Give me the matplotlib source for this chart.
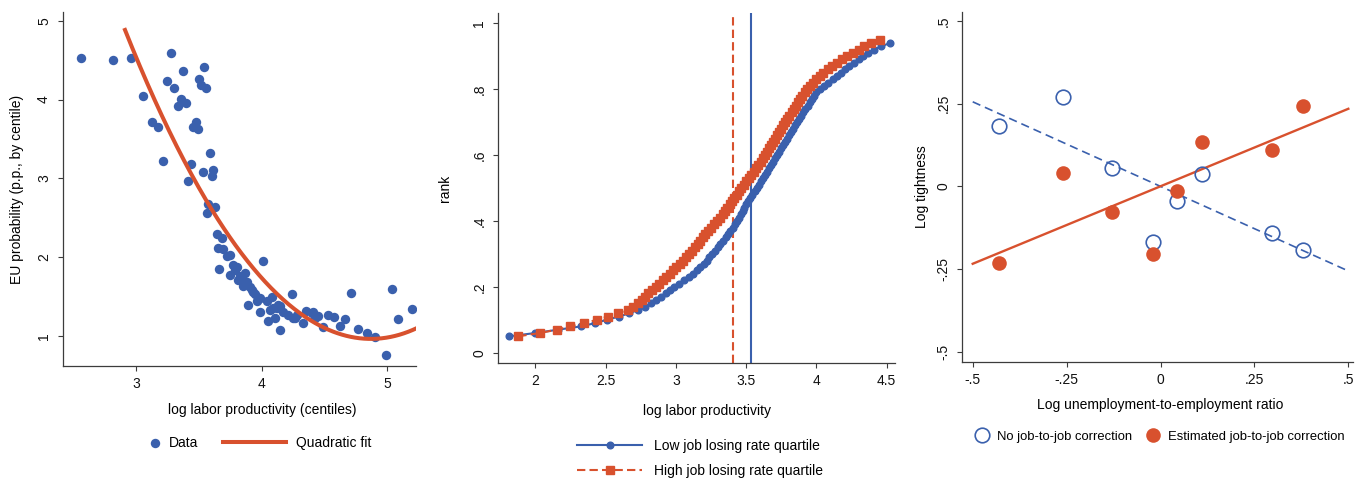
import matplotlib
matplotlib.use("Agg")
import matplotlib.pyplot as plt
import numpy as np

plt.rcParams['font.family'] = ['Liberation Sans', 'DejaVu Sans']
plt.rcParams['font.size'] = 10

BLUE = '#3a60ad'
RED = '#d8512e'
AXC = '#3c3c3c'

# ---- panel 1: EU probability by productivity centile ----
prod_x = [2.559, 2.817, 2.958, 3.056, 3.122, 3.175, 3.212, 3.247, 3.276, 3.303,
          3.329, 3.356, 3.375, 3.396, 3.414, 3.436, 3.454, 3.475, 3.489, 3.502,
          3.515, 3.529, 3.542, 3.555, 3.560, 3.574, 3.590, 3.600, 3.614, 3.627,
          3.640, 3.653, 3.661, 3.680, 3.693, 3.720, 3.747, 3.746, 3.773, 3.786,
          3.800, 3.813, 3.826, 3.840, 3.853, 3.866, 3.880, 3.892, 3.906, 3.919,
          3.930, 3.946, 3.959, 3.970, 3.985, 3.986, 4.012, 4.039, 4.052, 4.065,
          4.079, 4.092, 4.105, 4.118, 4.131, 4.145, 4.145, 4.171, 4.211, 4.238,
          4.251, 4.264, 4.278, 4.331, 4.357, 4.397, 4.410, 4.424, 4.450, 4.490,
          4.530, 4.575, 4.623, 4.663, 4.711, 4.769, 4.836, 4.907, 4.987, 5.035,
          5.083, 5.202]
eu_prob = [4.53, 4.50, 4.53, 4.05, 3.71, 3.65, 3.22, 4.23, 4.59, 4.15,
           3.92, 4.01, 4.36, 3.95, 2.97, 3.18, 3.65, 3.72, 3.63, 4.26,
           4.18, 3.08, 4.41, 4.14, 2.56, 2.67, 3.32, 3.03, 3.10, 2.64,
           2.29, 2.12, 1.85, 2.24, 2.10, 2.01, 2.03, 1.78, 1.90, 1.84,
           1.88, 1.71, 1.76, 1.72, 1.64, 1.80, 1.68, 1.40, 1.62, 1.59,
           1.56, 1.53, 1.44, 1.47, 1.48, 1.31, 1.95, 1.44, 1.19, 1.33,
           1.50, 1.36, 1.23, 1.36, 1.40, 1.08, 1.38, 1.30, 1.27, 1.53,
           1.23, 1.23, 1.27, 1.17, 1.32, 1.29, 1.31, 1.23, 1.25, 1.12,
           1.27, 1.24, 1.13, 1.22, 1.55, 1.09, 1.04, 0.99, 0.76, 1.60,
           1.22, 1.34]
qfit_coef = [1.02, -9.935, 25.156]   # quadratic fit a*x^2 + b*x + c
qfit_range = [2.91, 5.25]

# ---- panel 2: productivity CDF by job losing rate quartile ----
low_rank = [5, 6, 7, 8, 9, 10, 11, 12, 13, 14, 15, 16, 17, 18, 19, 20, 21, 22,
            23, 24, 25, 26, 27, 28, 29, 30, 31, 32, 33, 34, 35, 36, 37, 38, 39,
            40, 41, 42, 43, 44, 45, 46, 47, 48, 49, 50, 51, 52, 53, 54, 55, 56,
            57, 58, 59, 60, 61, 62, 63, 64, 65, 66, 67, 68, 69, 70, 71, 72, 73,
            74, 75, 76, 77, 78, 79, 80, 81, 82, 83, 84, 85, 86, 87, 88, 89, 90,
            91, 92, 93, 94]
low_x = [1.815, 2.000, 2.160, 2.325, 2.425, 2.508, 2.596, 2.670, 2.730, 2.780,
         2.825, 2.860, 2.895, 2.930, 2.960, 2.990, 3.025, 3.060, 3.095, 3.125,
         3.150, 3.175, 3.198, 3.218, 3.238, 3.257, 3.278, 3.297, 3.316, 3.337,
         3.355, 3.372, 3.388, 3.404, 3.418, 3.432, 3.446, 3.460, 3.474, 3.488,
         3.502, 3.516, 3.530, 3.545, 3.560, 3.575, 3.590, 3.605, 3.620, 3.635,
         3.650, 3.664, 3.678, 3.692, 3.706, 3.720, 3.734, 3.748, 3.762, 3.776,
         3.790, 3.804, 3.818, 3.832, 3.846, 3.862, 3.877, 3.892, 3.907, 3.922,
         3.937, 3.952, 3.967, 3.983, 4.000, 4.025, 4.055, 4.085, 4.115, 4.145,
         4.175, 4.205, 4.235, 4.268, 4.300, 4.333, 4.370, 4.410, 4.460, 4.525]
high_rank = [5, 6, 7, 8, 9, 10, 11, 12, 13, 14, 15, 16, 17, 18, 19, 20, 21, 22,
             23, 24, 25, 26, 27, 28, 29, 30, 31, 32, 33, 34, 35, 36, 37, 38, 39,
             40, 41, 42, 43, 44, 45, 46, 47, 48, 49, 50, 51, 52, 53, 54, 55, 56,
             57, 58, 59, 60, 61, 62, 63, 64, 65, 66, 67, 68, 69, 70, 71, 72, 73,
             74, 75, 76, 77, 78, 79, 80, 81, 82, 83, 84, 85, 86, 87, 88, 89, 90,
             91, 92, 93, 94, 95]
high_x = [1.879, 2.033, 2.152, 2.247, 2.349, 2.437, 2.515, 2.591, 2.657, 2.695,
          2.728, 2.757, 2.780, 2.805, 2.830, 2.855, 2.880, 2.905, 2.930, 2.955,
          2.980, 3.003, 3.026, 3.049, 3.072, 3.095, 3.118, 3.136, 3.154, 3.172,
          3.190, 3.208, 3.232, 3.252, 3.272, 3.292, 3.312, 3.332, 3.350, 3.367,
          3.384, 3.400, 3.416, 3.432, 3.448, 3.465, 3.482, 3.500, 3.518, 3.536,
          3.553, 3.570, 3.587, 3.602, 3.617, 3.632, 3.646, 3.660, 3.674, 3.688,
          3.703, 3.718, 3.733, 3.748, 3.763, 3.778, 3.793, 3.808, 3.823, 3.838,
          3.853, 3.868, 3.883, 3.900, 3.918, 3.936, 3.956, 3.978, 4.000, 4.025,
          4.050, 4.080, 4.110, 4.145, 4.180, 4.220, 4.260, 4.300, 4.340, 4.390,
          4.450]
vline_high = 3.407
vline_low = 3.532

# ---- panel 3: tightness vs u/e ratio ----
ue_ratio = [-0.430, -0.259, -0.128, -0.021, 0.045, 0.110, 0.298, 0.380]
tight_nocorr = [0.1825, 0.270, 0.054, -0.167, -0.045, 0.038, -0.140, -0.191]
tight_corr = [-0.231, 0.041, -0.078, -0.205, -0.014, 0.134, 0.110, 0.242]
lfit_range = [-0.5, 0.5]


def style_axes(ax):
    for s in ['top', 'right']:
        ax.spines[s].set_visible(False)
    for s in ['left', 'bottom']:
        ax.spines[s].set_color(AXC)
        ax.spines[s].set_linewidth(0.9)
    ax.tick_params(direction='out', length=3.6, width=0.8, color=AXC,
                   labelsize=10, labelcolor='#111111')
    ax.tick_params(axis='y', labelrotation=90, pad=5)
    ax.tick_params(axis='x', pad=4)
    for t in ax.get_yticklabels():
        t.set_va('center')


def place_labels(ax, xpos, ypos):
    ax.xaxis.set_label_coords(*xpos)
    ax.yaxis.set_label_coords(*ypos)
    ax.xaxis.label.set_va('center')
    ax.yaxis.label.set_va('center')


fig = plt.figure(figsize=(13.59, 4.79), dpi=100)

# panel 1
ax1 = fig.add_axes([0.0464, 0.2359, 0.2597, 0.739])
sc = ax1.scatter(prod_x, eu_prob, s=46, color=BLUE, linewidths=0, zorder=2)
qx = np.linspace(qfit_range[0], qfit_range[1], 200)
qline, = ax1.plot(qx, np.polyval(qfit_coef, qx), color=RED, lw=2.9, zorder=3)
ax1.set_xlim(2.416, 5.23)
ax1.set_ylim(0.62, 5.11)
ax1.set_xticks([3, 4, 5], ['3', '4', '5'])
ax1.set_yticks([1, 2, 3, 4, 5], ['1', '2', '3', '4', '5'])
style_axes(ax1)
ax1.set_xlabel('log labor productivity (centiles)', fontsize=10)
ax1.set_ylabel('EU probability (p.p., by centile)', fontsize=10)
place_labels(ax1, (0.564, -0.124), (-0.130, 0.5))
leg1 = ax1.legend([sc], ['Data'], loc='center left', bbox_to_anchor=(0.2408, -0.2175),
                  frameon=False, handlelength=1.0, handletextpad=0.5, borderpad=0,
                  borderaxespad=0, scatterpoints=1, fontsize=10)
ax1.add_artist(leg1)
ax1.legend([qline], ['Quadratic fit'], loc='center left', bbox_to_anchor=(0.4533, -0.2175),
           frameon=False, handlelength=4.5, handletextpad=0.72, borderpad=0,
           borderaxespad=0, fontsize=10)

# panel 2
ax2 = fig.add_axes([0.3667, 0.2415, 0.2919, 0.732])
ax2.axvline(vline_high, color=RED, lw=1.5, dashes=(4, 2), zorder=1)
ax2.axvline(vline_low, color=BLUE, lw=1.5, zorder=1)
ax2.plot(low_x, np.array(low_rank) / 100, color=BLUE, lw=1.5, marker='o', ms=4.8,
         zorder=2, label='Low job losing rate quartile')
ax2.plot(high_x, np.array(high_rank) / 100, color=RED, lw=1.5, marker='s', ms=5.5,
         dashes=(4, 2), zorder=3, label='High job losing rate quartile')
ax2.set_xlim(1.737, 4.559)
ax2.set_ylim(-0.032, 1.032)
ax2.set_xticks([2, 2.5, 3, 3.5, 4, 4.5], ['2', '2.5', '3', '3.5', '4', '4.5'])
ax2.set_yticks([0, 0.2, 0.4, 0.6, 0.8, 1], ['0', '.2', '.4', '.6', '.8', '1'])
style_axes(ax2)
ax2.set_xlabel('log labor productivity', fontsize=10)
ax2.set_ylabel('rank', fontsize=10)
place_labels(ax2, (0.526, -0.136), (-0.134, 0.5))
ax2.legend(loc='center left', bbox_to_anchor=(0.198, -0.2715), frameon=False,
           handlelength=4.7, handletextpad=0.86, borderpad=0, borderaxespad=0,
           labelspacing=0.75, numpoints=1, fontsize=10)

# panel 3
ax3 = fig.add_axes([0.7081, 0.2443, 0.2875, 0.7313])
lx = np.array(lfit_range)
b_no = np.polyfit(ue_ratio, tight_nocorr, 1)
b_co = np.polyfit(ue_ratio, tight_corr, 1)
ax3.plot(lx, np.polyval(b_no, lx), color=BLUE, lw=1.2, dashes=(5, 3), zorder=2)
ax3.plot(lx, np.polyval(b_co, lx), color=RED, lw=1.7, zorder=2)
h1, = ax3.plot(ue_ratio, tight_nocorr, ls='none', marker='o', ms=10.5, mfc='none',
               mec=BLUE, mew=1.2, zorder=3)
h2, = ax3.plot(ue_ratio, tight_corr, ls='none', marker='o', ms=10.5, mfc=RED,
               mec=RED, mew=0, zorder=3)
ax3.set_xlim(-0.5277, 0.5125)
ax3.set_ylim(-0.531, 0.528)
ax3.set_xticks([-0.5, -0.25, 0, 0.25, 0.5], ['-.5', '-.25', '0', '.25', '.5'])
ax3.set_yticks([-0.5, -0.25, 0, 0.25, 0.5], ['-.5', '-.25', '0', '.25', '.5'])
style_axes(ax3)
ax3.set_xlabel('Log unemployment-to-employment ratio', fontsize=10)
ax3.set_ylabel('Log tightness', fontsize=10)
place_labels(ax3, (0.506, -0.1228), (-0.103, 0.5))
ax3.legend([h1, h2], ['No job-to-job correction', 'Estimated job-to-job correction'],
           loc='center left', bbox_to_anchor=(0.031, -0.214), ncol=2, frameon=False,
           handlelength=1.1, handletextpad=0.6, columnspacing=1.1, borderpad=0,
           borderaxespad=0, fontsize=9.4)

fig.savefig('out.png', dpi=100)
